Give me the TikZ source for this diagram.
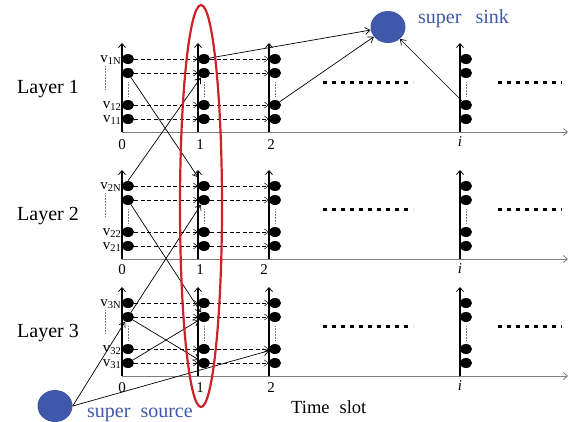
\documentclass[tikz,border=0pt]{standalone}
\usepackage{fontspec}
\setmainfont{Liberation Serif}
\usetikzlibrary{arrows.meta,shapes.geometric}
\definecolor{ballblue}{RGB}{63,88,170}
\definecolor{ovalred}{RGB}{208,32,40}
\definecolor{axisgray}{RGB}{125,125,125}
\newcommand{\vsub}[1]{\raisebox{-2.5pt}{\fontsize{10.5}{12}\selectfont #1}}
\tikzset{
  slotnode/.style={ellipse, fill=black, minimum width=12pt, minimum height=10pt, inner sep=0pt},
  bigball/.style={ellipse, fill=ballblue, minimum width=35pt, minimum height=32pt, inner sep=0pt},
  timeaxis/.style={draw=axisgray, line width=0.8pt, -{Straight Barb[length=4pt,width=7pt]}},
  slotaxis/.style={line width=1.5pt, -{Straight Barb[length=4pt,width=7pt,line width=0.8pt]}},
  flow/.style={line width=0.5pt, dash pattern=on 4pt off 2.5pt, -{Straight Barb[length=4pt,width=6pt]}},
  link/.style={line width=0.7pt, -{Straight Barb[length=5pt,width=7pt]}},
  gapline/.style={draw=axisgray, line width=0.5pt, densely dotted},
  gapdots/.style={line width=3pt, dash pattern=on 4pt off 5pt},
  ticklabel/.style={font=\fontsize{15}{17}\selectfont, inner sep=0pt},
  vlabel/.style={font=\fontsize{15}{16}\selectfont, inner sep=0pt, anchor=base east},
  layerlabel/.style={font=\fontsize{20}{24}\selectfont, inner sep=0pt},
  bluelabel/.style={font=\fontsize{20}{24}\selectfont, text=ballblue, inner sep=0pt, anchor=base west}
}
\begin{document}
\begin{tikzpicture}[x=1pt,y=-1pt]
\useasboundingbox (0,0) rectangle (576,421);

% three layers of the time-expanded graph
\foreach \L/\B in {1/132,2/259,3/376}{
  % time axis
  \draw[timeaxis] (122,\B) -- (568,\B);
  % time slots 0, 1, 2 and i
  \foreach \c/\X in {0/122,1/198,2/269,3/460}{
    \draw[slotaxis] (\X,\B) -- (\X,\B-89);
    \foreach \r/\o in {1/73,2/59,3/27,4/13}
      \node[slotnode] (n\L-\c-\r) at (\X+6,\B-\o) {};
    \draw[gapline] (\X+6,\B-50) -- (\X+6,\B-35);
  }
  % storage arcs between consecutive slots
  \foreach \r in {1,...,4}{
    \draw[flow] (n\L-0-\r) -- (n\L-1-\r);
    \draw[flow] (n\L-1-\r) -- (n\L-2-\r);
  }
  % vertex names
  \node[vlabel] (lab\L-1) at (121,\B-70) {v\vsub{\L N}};
  \node[vlabel] (lab\L-3) at (121,\B-24) {v\vsub{\L 2}};
  \node[vlabel] (lab\L-4) at (121,\B-10) {v\vsub{\L 1}};
  \draw[gapline] (105,\B-66) -- (105,\B-42);
  \node[layerlabel] (layer\L) at (48,\B-43) {Layer \L};
  % slots not drawn
  \draw[gapdots] (323,\B-50) -- (413,\B-50);
  \draw[gapdots] (498,\B-50) -- (562,\B-50);
  \node[ticklabel] (t\L-3) at (460,\B+10) {\itshape i};
}

% slot numbers
\node[ticklabel] (t1-0) at (122,145) {0};
\node[ticklabel] (t1-1) at (200,145) {1};
\node[ticklabel] (t1-2) at (271,145) {2};
\node[ticklabel] (t2-0) at (122,270) {0};
\node[ticklabel] (t2-1) at (200,270) {1};
\node[ticklabel] (t2-2) at (264,270) {2};
\node[ticklabel] (t3-0) at (122,388) {0};
\node[ticklabel] (t3-1) at (200,388) {1};
\node[ticklabel] (t3-2) at (271,388) {2};

% super sink and super source
\node[bigball] (sink) at (388,27) {};
\node[bluelabel] (sinklabel) at (418,23) {super\hspace{14pt}sink};
\node[bigball] (source) at (55,406) {};
\node[bluelabel] (sourcelabel) at (87,417) {super\hspace{10pt}source};
\node[font=\fontsize{18.5}{20}\selectfont, inner sep=0pt, anchor=base west] (timeslot) at (291,413) {Time\hspace{10pt}slot};

% arcs into the super sink
\draw[link] (n1-1-1) -- (sink);
\draw[link] (n1-2-3) -- (sink);
\draw[link] (n1-3-3) -- (sink);

% arcs out of the super source
\draw[link] (source.east) -- (n3-0-2);
\draw[link] (source.east) -- (n3-2-3);

% transmission arcs between layers
\draw[link, shorten >=5pt] (n1-0-2) -- (n2-1-1);
\draw[link] (n2-0-1.north) -- (n1-1-2);
\draw[link] (n2-0-2) -- (n3-1-2);
\draw[link] (n3-0-2) -- (n2-1-2);
\draw[link] (n3-0-2) -- (n3-1-4);
\draw[link] (n3-0-4) -- (n3-1-2);

% highlighted time slot
\draw[ovalred, line width=2.2pt] (201,206) ellipse [x radius=21pt, y radius=201pt];
\end{tikzpicture}
\end{document}
